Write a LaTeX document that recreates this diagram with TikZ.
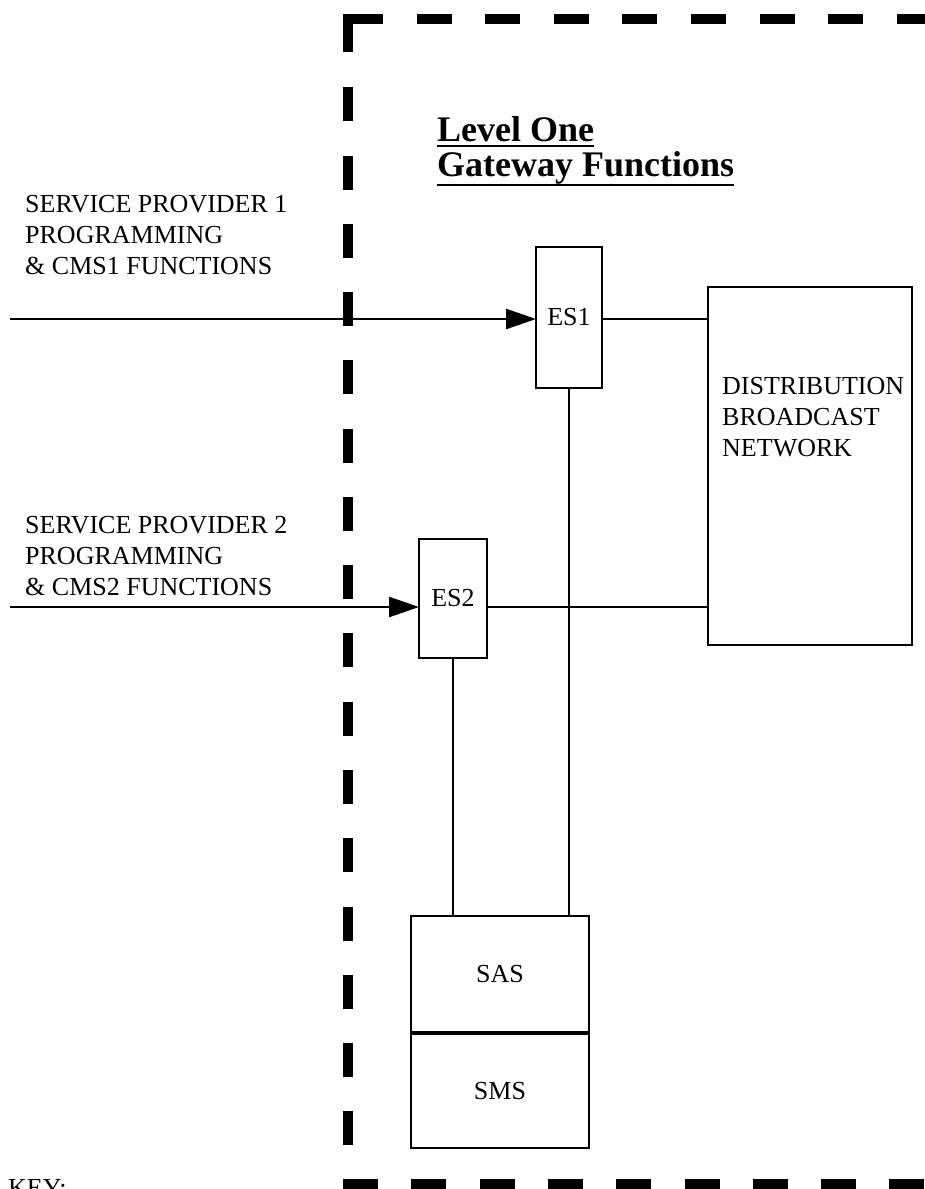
\documentclass[tikz,border=0pt]{standalone}
\usepackage{fontspec}
\setmainfont{Liberation Serif}
\usetikzlibrary{arrows.meta}
\newcommand{\ulhead}[2]{\setbox0\hbox{#2}\rlap{\rule[-#1]{\wd0}{2.5pt}}\box0}

\begin{document}
\begin{tikzpicture}[x=1pt,y=-1pt,
                        every node/.style={font=\fontsize{26}{31}\selectfont},
                        unit/.style={shape=rectangle,draw,line width=2.6pt,inner sep=0pt,outer sep=0pt},
                        txt/.style={align=left,inner sep=0pt,anchor=west},
                        link/.style={line width=2.6pt},
                        feed/.style={link,-{Triangle[length=30pt,width=20pt]}},
                        gate/.style={line width=10pt}]
                        \useasboundingbox (0,0) rectangle (925,1189);
                        \clip (0,0) rectangle (925,1189);
                        % level one gateway boundary
                        \draw[gate] (348,52) |- (383,18.5);
                        \draw[gate,dash pattern=on 35pt off 33.6pt] (416.6,18.5) -- (940,18.5);
                        \draw[gate,dash pattern=on 34pt off 34.27pt] (348,87.3) -- (348,1183);
                        \draw[gate,dash pattern=on 35pt off 33.3pt] (343,1183.5) -- (940,1183.5);
                        \node[anchor=north west,inner sep=0pt,align=left,font=\fontsize{36}{35}\selectfont\bfseries] (title) at (437,116) {\ulhead{6pt}{Level One}\\\ulhead{10pt}{Gateway Functions}};
                        % providers
                        \node[txt] (sp1) at (25,235) {SERVICE PROVIDER 1\\PROGRAMMING\\\& CMS1 FUNCTIONS};
                        \node[txt] (sp2) at (25,556) {SERVICE PROVIDER 2\\PROGRAMMING\\\& CMS2 FUNCTIONS};
                        \coordinate (in1) at (10,319);
                        \coordinate (in2) at (10,607);
                        % gateway units
                        \node[unit,minimum width=66pt,minimum height=141pt] (es1) at (569,317.5) {ES1};
                        \node[unit,minimum width=68pt,minimum height=119pt] (es2) at (453,598.5) {ES2};
                        \node[unit,minimum width=204pt,minimum height=358pt] (dbn) at (810,466) {};
                        \node[txt] (dbntxt) at (722,417) {DISTRIBUTION\\BROADCAST\\NETWORK};
                        \node[unit,minimum width=178pt,minimum height=116pt] (sas) at (500,974) {SAS};
                        \node[unit,minimum width=178pt,minimum height=114pt] (sms) at (500,1091) {SMS};
                        \node[anchor=base west,inner sep=0pt] (key) at (8,1196) {KEY:};
                        \draw[feed] (in1) -- (in1 -| es1.west);
                        \draw[feed] (in2) -- (in2 -| es2.west);
                        \draw[link] (in1 -| es1.east) -- (in1 -| dbn.west);
                        \draw[link] (in2 -| es2.east) -- (in2 -| dbn.west);
                        \draw[link] (es1.south) -- (es1.south |- sas.north);
                        \draw[link] (es2.south) -- (es2.south |- sas.north);
                \end{tikzpicture}
\end{document}
